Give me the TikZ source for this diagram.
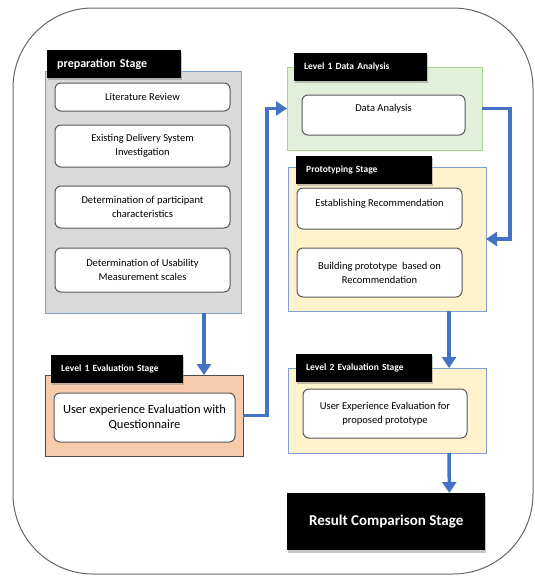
\documentclass[tikz,border=0pt]{standalone}
\usepackage{fontspec}
\setmainfont{Carlito}
\usetikzlibrary{shadows,arrows.meta}
\definecolor{prepgray}{HTML}{D9D9D9}
\definecolor{panelblue}{HTML}{7F9FCF}
\definecolor{anagreen}{HTML}{E2F0D9}
\definecolor{anaborder}{HTML}{A9D18E}
\definecolor{evalorange}{HTML}{F8CBAD}
\definecolor{protoyellow}{HTML}{FFF2CC}
\definecolor{flowblue}{HTML}{4472C4}

\begin{document}
\begin{tikzpicture}[x=1pt, y=-1pt,
  panel/.style={draw=panelblue, line width=0.9pt, anchor=north west, inner sep=0pt, outer sep=0pt},
  stagetitle/.style={fill=black, anchor=north west, text=white, align=left,
    font=\bfseries\fontsize{9.5}{11}\selectfont, inner xsep=10pt, inner ysep=0pt,
    minimum height=28pt, drop shadow={opacity=0.45, shadow xshift=1pt, shadow yshift=-2pt}},
  stepbox/.style={draw=black!65, fill=white, line width=1pt, rounded corners=6pt, anchor=north west,
    align=center, inner sep=0pt, outer sep=0pt, font=\fontsize{10.5}{14}\selectfont},
  flow/.style={draw=flowblue, line width=3.5pt, -{Triangle[length=11pt, width=14pt]}}]
  \useasboundingbox (0,0) rectangle (535,576);
  % outer frame
  \draw[black!60, line width=1pt, rounded corners=80pt] (13,8) rectangle (533,574);

  % preparation stage
  \node[panel, fill=prepgray, minimum width=196pt, minimum height=242pt] (prep) at (45,71) {};
  \node[stagetitle, text width=114pt, font=\bfseries\fontsize{12}{14}\selectfont] (preptitle) at (47,50) {preparation Stage};
  \node[stepbox, minimum width=175pt, minimum height=28pt] (litrev) at (55,83) {Literature Review};
  \node[stepbox, minimum width=175pt, minimum height=42pt] (delivery) at (55,125) {Existing Delivery System\\Investigation};
  \node[stepbox, minimum width=175pt, minimum height=42pt] (particip) at (55,186) {Determination of participant\\characteristics};
  \node[stepbox, minimum width=175pt, minimum height=44pt] (usab) at (55,248) {Determination of Usability\\Measurement scales};

  % level 1 evaluation
  \node[panel, draw=black!70, fill=evalorange, minimum width=198pt, minimum height=81pt] (l1eval) at (45,375) {};
  \node[stagetitle, text width=112pt] (l1title) at (51,355) {Level 1 Evaluation Stage};
  \node[stepbox, minimum width=181pt, minimum height=49pt, font=\fontsize{12.5}{15}\selectfont] (uxquest) at (54,393) {User experience Evaluation with\\Questionnaire};

  % level 1 data analysis
  \node[panel, draw=anaborder, fill=anagreen, minimum width=195pt, minimum height=83pt] (ana) at (287,67) {};
  \node[stagetitle, text width=113pt] (anatitle) at (294,53) {Level 1 Data Analysis};
  \node[stepbox, minimum width=163pt, minimum height=40pt,
    label={[anchor=north, yshift=-6pt, font=\fontsize{10.5}{14}\selectfont]north:Data Analysis}] (dataana) at (302,95) {};

  % prototyping stage
  \node[panel, fill=protoyellow, minimum width=198pt, minimum height=144pt] (proto) at (288,167) {};
  \node[stagetitle, text width=116pt] (prototitle) at (296,156) {Prototyping Stage};
  \node[stepbox, minimum width=165pt, minimum height=41pt,
    label={[anchor=north, yshift=-8pt, font=\fontsize{10.5}{14}\selectfont]north:Establishing Recommendation}] (recom) at (297,188) {};
  \node[stepbox, minimum width=165pt, minimum height=49pt] (buildproto) at (297,248) {Building prototype\ \ based on\\Recommendation};

  % level 2 evaluation
  \node[panel, fill=protoyellow, minimum width=198pt, minimum height=85pt] (l2eval) at (288,368) {};
  \node[stagetitle, text width=116pt] (l2title) at (296,354) {Level 2 Evaluation Stage};
  \node[stepbox, minimum width=164pt, minimum height=49pt] (uxproto) at (303,389) {User Experience Evaluation for\\proposed prototype};

  % result
  \node[fill=black, anchor=north west, text=white, minimum width=198pt, minimum height=57pt, inner sep=0pt,
    font=\bfseries\fontsize{15}{17}\selectfont, drop shadow={opacity=0.45, shadow xshift=1pt, shadow yshift=-3pt}] (result) at (287,493) {Result Comparison Stage};

  % flow arrows
  \draw[flow] ([xshift=-37pt]prep.south east) -- ([xshift=-39pt]l1eval.north east);
  \draw[flow] (l1eval.east) -- ++(24,0) |- (ana.west);
  \draw[flow] (ana.east) -- ++(28,0) |- (proto.east);
  \draw[flow] ([xshift=-37pt]proto.south east) -- ([xshift=-37pt]l2eval.north east);
  \draw[flow] ([xshift=-37pt]l2eval.south east) -- ([xshift=-36pt]result.north east);
\end{tikzpicture}
\end{document}
